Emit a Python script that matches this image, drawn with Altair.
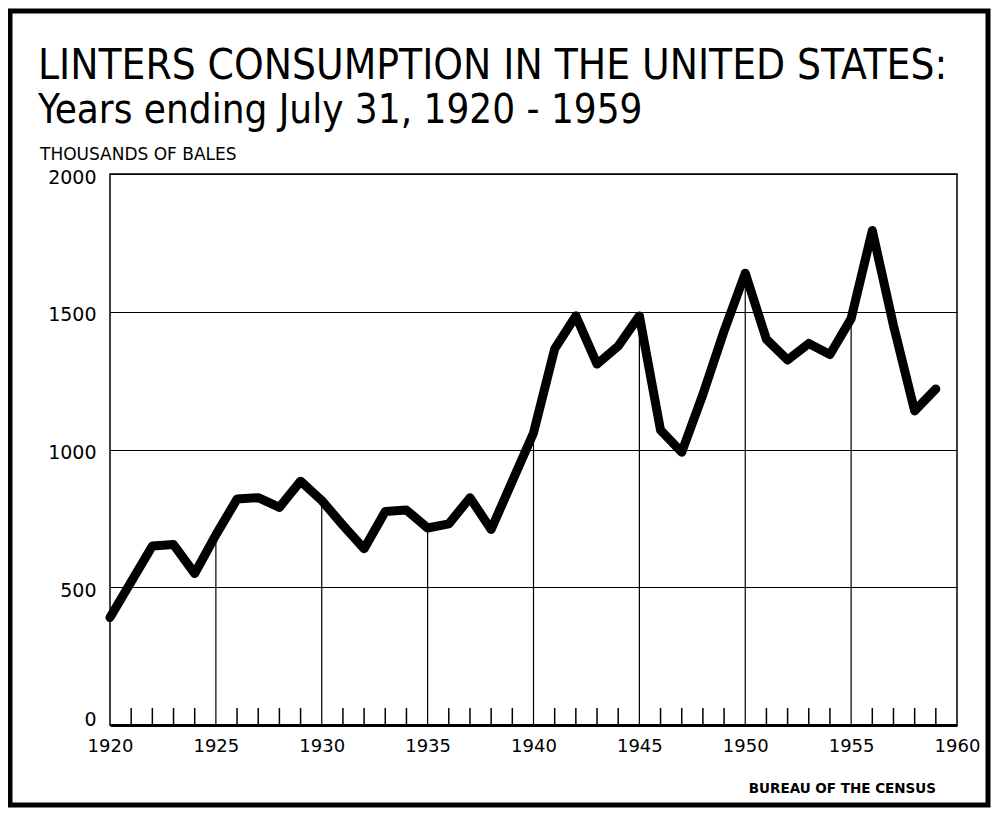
import altair as alt
import pandas as pd

# ---- data (thousands of bales) ----
years = list(range(1920, 1960))
values = [390, 520, 650, 655, 550, 690, 820, 825, 790, 885,
          815, 725, 640, 775, 780, 715, 730, 825, 710, 885,
          1060, 1365, 1485, 1310, 1375, 1485, 1070, 990, 1200, 1430,
          1640, 1400, 1325, 1385, 1345, 1475, 1795, 1450, 1140, 1220]

x_ticks = [1920, 1925, 1930, 1935, 1940, 1945, 1950, 1955, 1960]
y_ticks = [0, 500, 1000, 1500, 2000]
five_year_lines = [1925, 1930, 1935, 1940, 1945, 1950, 1955]
minor_len = 62  # length of the yearly ticks, in thousands of bales

title_line1 = "LINTERS CONSUMPTION IN THE UNITED STATES:"
title_line2 = "Years ending July 31, 1920 - 1959"
y_unit = "THOUSANDS OF BALES"
source = "BUREAU OF THE CENSUS"

FONT = "DejaVu Sans Condensed"
FONT2 = "DejaVu Sans"

df = pd.DataFrame({"year": years, "value": values})
lookup = dict(zip(years, values))
vdf = pd.DataFrame({"year": five_year_lines,
                    "value": [0] * len(five_year_lines),
                    "top": [lookup[y] for y in five_year_lines]})
minor_years = [y for y in years if y % 5 != 0]
mdf = pd.DataFrame({"year": minor_years,
                    "value": [0] * len(minor_years),
                    "top": [minor_len] * len(minor_years)})

X = alt.X("year:Q",
          scale=alt.Scale(domain=[1920, 1960], nice=False, zero=False),
          axis=alt.Axis(values=x_ticks, format="d", grid=False, ticks=False,
                        domainColor="black", domainWidth=3,
                        labelFont=FONT2, labelFontSize=18, labelColor="black",
                        labelPadding=12, labelFlush=False, title=None))
Y = alt.Y("value:Q",
          scale=alt.Scale(domain=[0, 2000], nice=False),
          axis=alt.Axis(values=y_ticks, format="d", grid=True, gridColor="black",
                        gridWidth=1, gridOpacity=1, ticks=False, domain=False,
                        labelFont=FONT2, labelFontSize=19, labelColor="black",
                        labelPadding=14,
                        labelOffset={"condition": {"test": "datum.value == 0", "value": -6},
                                     "value": 3},
                        title=None))

line = alt.Chart(df).mark_line(color="black", strokeWidth=9,
                               strokeCap="round", strokeJoin="round").encode(
    x=X, y=Y)

verticals = alt.Chart(vdf).mark_rule(color="black", strokeWidth=1.2).encode(
    x=X, y=Y, y2="top:Q")

minor = alt.Chart(mdf).mark_rule(color="black", strokeWidth=1.5).encode(
    x=X, y=Y, y2="top:Q")

def label(text, x, y, size, font=FONT, weight="normal", align="left"):
    return alt.Chart(pd.DataFrame({"t": [text]})).mark_text(
        font=font, fontSize=size, fontWeight=weight, align=align,
        baseline="alphabetic", color="black").encode(
        text="t:N", x=alt.value(x), y=alt.value(y))

t1 = label(title_line1, -72, -95, 42)
t2 = label(title_line2, -72, -51, 40)
tu = label(y_unit, -70, -14, 17, font=FONT2)
ts = label(source, 826, 619, 13.5, font=FONT2, weight="bold", align="right")

frame = alt.Chart(pd.DataFrame({"a": [0]})).mark_rect(
    fillOpacity=0, stroke="black", strokeWidth=5).encode(
    x=alt.value(-100), x2=alt.value(878), y=alt.value(-163), y2=alt.value(631))

chart = alt.layer(line, verticals, minor, t1, t2, tu, ts, frame).properties(
    width=847, height=551,
    padding={"left": 102, "top": 166, "right": 34, "bottom": 83},
    autosize=alt.AutoSizeParams(type="none"),
    background="white",
).configure_view(stroke="black", strokeWidth=1.5)

chart.save("out.html", embed_options={"renderer": "svg", "actions": False})
